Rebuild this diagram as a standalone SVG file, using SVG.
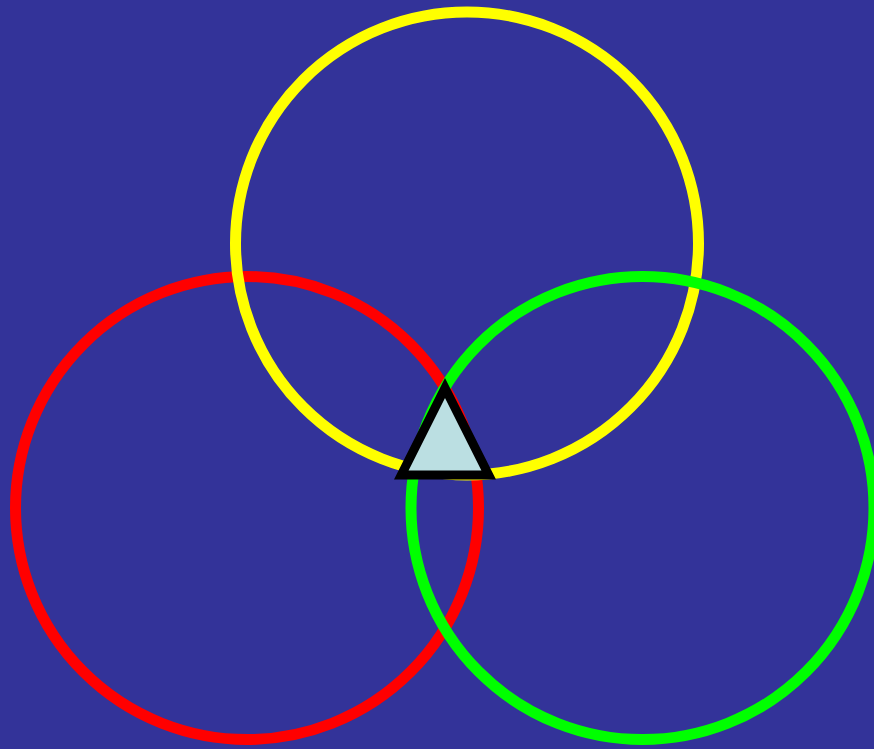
<svg xmlns="http://www.w3.org/2000/svg" width="874" height="749" viewBox="0 0 874 749">
<style>
.ring{fill:none;stroke-width:11}
.tri{fill:#bbdfe2;stroke:#000;stroke-width:9;stroke-linejoin:miter}
</style>
<rect width="874" height="749" fill="#333399"/>
<g id="red-circle"><circle class="ring" cx="247" cy="508" r="231.5" stroke="#ff0000"/></g>
<g id="yellow-circle"><circle class="ring" cx="467" cy="243.5" r="231.5" stroke="#ffff00"/></g>
<g id="green-circle"><circle class="ring" cx="642.5" cy="508" r="231.5" stroke="#00ff00"/></g>
<g id="triangle"><polygon class="tri" points="445,388 488.7,475 401.3,475"/></g>
</svg>
